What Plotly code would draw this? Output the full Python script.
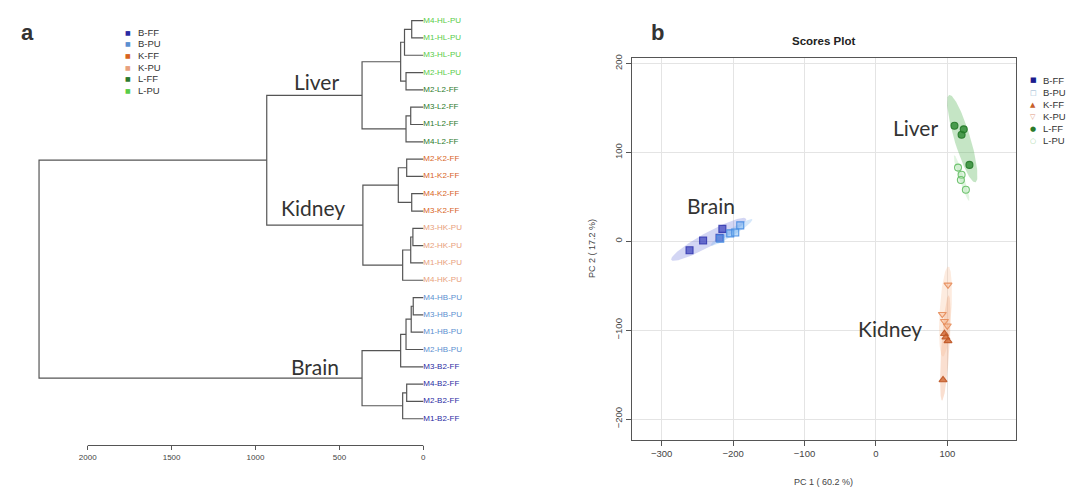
import numpy as np
import plotly.graph_objects as go

# ---------------- data ----------------
groups = ["B-FF", "B-PU", "K-FF", "K-PU", "L-FF", "L-PU"]
group_tags = ["B2-FF", "HB-PU", "K2-FF", "HK-PU", "L2-FF", "HL-PU"]
label_colors = ["#2a2aa3", "#5b8fd0", "#d8641e", "#e8a07c", "#2c7a2c", "#58cc48"]

# hierarchical clustering merges ("#k" refers to merge k), heights in tree units
merge_left = ["M4-HL-PU", "#0", "M2-HL-PU", "#1", "M3-L2-FF", "#4", "#3",
              "M2-K2-FF", "M4-K2-FF", "#7", "M3-HK-PU", "#10", "#11", "#9", "#6",
              "M4-HB-PU", "#15", "#16", "#17", "M4-B2-FF", "#19", "#18", "#14"]
merge_right = ["M1-HL-PU", "M3-HL-PU", "M2-L2-FF", "#2", "M1-L2-FF", "M4-L2-FF", "#5",
               "M1-K2-FF", "M3-K2-FF", "#8", "M2-HK-PU", "M1-HK-PU", "M4-HK-PU", "#12", "#13",
               "M3-HB-PU", "M1-HB-PU", "M2-HB-PU", "M3-B2-FF", "M2-B2-FF", "M1-B2-FF", "#20", "#21"]
merge_height = [69, 112, 103, 135, 75, 103, 365,
                99, 69, 149, 62, 75, 123, 360, 933,
                60, 72, 103, 135, 99, 123, 365, 2290]
dendro_ticks = [2000, 1500, 1000, 500, 0]

# PCA scores (PC1, PC2)
pc1 = {
    "B-FF": [-261, -242, -219, -215],
    "B-PU": [-218, -204, -197, -190],
    "K-FF": [96, 101, 98, 94],
    "K-PU": [101, 93, 96, 100],
    "L-FF": [110, 120, 123, 131],
    "L-PU": [115, 120, 119, 126],
}
pc2 = {
    "B-FF": [-10, 1, 4, 14],
    "B-PU": [3, 9, 10, 18],
    "K-FF": [-104, -112, -108, -156],
    "K-PU": [-49, -82, -90, -95],
    "L-FF": [130, 120, 126, 86],
    "L-PU": [83, 75, 69, 58],
}
pca_ticks_x = [-300, -200, -100, 0, 100]
pca_ticks_y = [-200, -100, 0, 100, 200]

marker_symbols = ["square", "square", "triangle-up", "triangle-down", "circle", "circle"]
marker_fill = ["rgba(45,50,185,0.65)", "rgba(110,175,240,0.45)", "rgba(205,95,40,0.75)",
               "rgba(245,170,120,0.35)", "rgba(40,135,45,0.8)", "rgba(170,225,170,0.3)"]
marker_line = ["rgba(40,45,170,0.8)", "rgba(70,140,225,0.9)", "rgba(190,85,35,0.9)",
               "rgba(230,140,90,0.9)", "rgba(35,120,40,0.9)", "rgba(100,190,100,0.9)"]
ellipse_fill = ["rgba(110,120,220,0.30)", "rgba(120,180,240,0.30)", "rgba(240,150,100,0.30)",
                "rgba(250,190,150,0.30)", "rgba(90,180,90,0.35)", "rgba(170,225,170,0.35)"]
legend_b_colors = ["#1c1c8e", "#8fb3cf", "#c8602a", "#e0967a", "#2a7a2a", "#9fd69f"]
legend_b_glyphs = ["■", "□", "▲", "▽", "●", "○"]

FONT = "Arial, Liberation Sans, sans-serif"
W, H = 1080, 496
OX, OY = 8, 8  # page offset of the plot div (body margin)


def px_x(p):
    return (p - OX) / W


def px_y(p):
    return 1 - (p - OY) / H


fig = go.Figure()

# ---------------- panel a: dendrogram ----------------
leaf_order = []
seg_x, seg_y = [], []


def place(node):
    if not node.startswith("#"):
        leaf_order.append(node)
        return 0.0, float(len(leaf_order) - 1)
    k = int(node[1:])
    lh, ly = place(merge_left[k])
    rh, ry = place(merge_right[k])
    h = merge_height[k]
    seg_x.extend([lh, h, h, rh, None])
    seg_y.extend([ly, ly, ry, ry, None])
    return h, (ly + ry) / 2


place("#%d" % (len(merge_height) - 1))

fig.add_trace(go.Scatter(x=seg_x, y=seg_y, mode="lines", xaxis="x", yaxis="y",
                         line=dict(color="#555555", width=1.2), hoverinfo="skip",
                         showlegend=False))


def leaf_color(lbl):
    for tag, c in zip(group_tags, label_colors):
        if tag in lbl:
            return c
    return "#000"


fig.add_trace(go.Scatter(x=[0] * len(leaf_order), y=list(range(len(leaf_order))),
                         mode="text", text=leaf_order, textposition="middle right",
                         cliponaxis=False,
                         textfont=dict(family=FONT, size=8,
                                       color=[leaf_color(l) for l in leaf_order]),
                         xaxis="x", yaxis="y", showlegend=False, hoverinfo="skip"))

# pixel mapping for panel a
px_per_unit = 335.6 / 2000
x0_px = 423.3
dom_a = [30, 430]
leaf0_px, leaf_step = 16.7, 17.45
ya_bottom_px = 445

fig.update_layout(
    xaxis=dict(domain=[px_x(dom_a[0]), px_x(dom_a[1])],
               range=[(x0_px - dom_a[0]) / px_per_unit, (x0_px - dom_a[1]) / px_per_unit],
               tickvals=dendro_ticks, ticktext=[str(t) for t in dendro_ticks],
               ticks="outside", ticklen=4, tickcolor="#555", tickwidth=1,
               showgrid=False, zeroline=False, showline=False,
               tickfont=dict(family=FONT, size=8, color="#444"), anchor="y"),
    yaxis=dict(domain=[px_y(ya_bottom_px), px_y(OY)],
               range=[(ya_bottom_px - leaf0_px) / leaf_step, (OY - leaf0_px) / leaf_step],
               visible=False, anchor="x"),
)
fig.add_shape(type="line", xref="x", yref="y domain", x0=dendro_ticks[0], x1=dendro_ticks[-1],
              y0=0, y1=0, line=dict(color="#555", width=1.2))

for name, hx, iy in [("Liver", 639, 3.51), ("Kidney", 658, 10.79), ("Brain", 646, 19.96)]:
    fig.add_annotation(x=hx, y=iy, xref="x", yref="y", text=name, showarrow=False,
                       xanchor="center", yanchor="middle",
                       font=dict(family="Lato, Open Sans, sans-serif", size=21, color="#333"))

# legend a (text glyphs)
for k, (g, c) in enumerate(zip(groups, label_colors)):
    ypx = 28.3 + 11.8 * k
    fig.add_annotation(x=px_x(128), y=px_y(ypx), xref="paper", yref="paper", text="■",
                       showarrow=False, font=dict(family="DejaVu Sans", size=6, color=c),
                       xanchor="center", yanchor="middle")
    fig.add_annotation(x=px_x(136), y=px_y(ypx), xref="paper", yref="paper", text=g,
                       showarrow=False, font=dict(family=FONT, size=9.5, color="#333"),
                       xanchor="left", yanchor="middle")

# ---------------- panel b: PCA scores ----------------
t95 = np.sqrt(-2 * np.log(0.05))  # sqrt(qchisq(0.95, 2))
theta = np.linspace(0, 2 * np.pi, 120)
for g, fc in zip(groups, ellipse_fill):
    pts = np.column_stack([pc1[g], pc2[g]]).astype(float)
    ctr = pts.mean(axis=0)
    cov = np.cov(pts.T)
    vals, vecs = np.linalg.eigh(cov)
    circ = np.vstack([np.cos(theta), np.sin(theta)])
    ell = (vecs @ np.diag(np.sqrt(np.maximum(vals, 0))) @ circ) * t95
    fig.add_trace(go.Scatter(x=ell[0] + ctr[0], y=ell[1] + ctr[1], mode="lines",
                             fill="toself", fillcolor=fc, line=dict(width=0),
                             xaxis="x2", yaxis="y2", showlegend=False, hoverinfo="skip"))

for g, sym, mf, ml in zip(groups, marker_symbols, marker_fill, marker_line):
    fig.add_trace(go.Scatter(x=pc1[g], y=pc2[g], mode="markers", name=g,
                             marker=dict(symbol=sym, size=7, color=mf,
                                         line=dict(color=ml, width=1.1)),
                             xaxis="x2", yaxis="y2", showlegend=False))

axis_common = dict(showline=True, mirror=True, linecolor="#555", linewidth=1,
                   ticks="outside", ticklen=5, tickcolor="#555",
                   showgrid=True, gridcolor="#e4e4e4", gridwidth=1, zeroline=False,
                   tickfont=dict(family=FONT, size=9.5, color="#444"))
fig.update_layout(
    xaxis2=dict(domain=[px_x(631.7), px_x(1016)], range=[-342, 196.2], tickvals=pca_ticks_x,
                anchor="y2", **axis_common),
    yaxis2=dict(domain=[px_y(439.3), px_y(54.3)], range=[-223.4, 206.4],
                tickvals=pca_ticks_y, tickangle=-90, anchor="x2", **axis_common),
)

fig.add_annotation(x=px_x(823), y=px_y(37), xref="paper", yref="paper", text="<b>Scores Plot</b>",
                   showarrow=False, xanchor="center", yanchor="middle",
                   font=dict(family=FONT, size=11.5, color="#222"))
fig.add_annotation(x=px_x(823), y=px_y(482), xref="paper", yref="paper", text="PC 1 ( 60.2 %)",
                   showarrow=False, xanchor="center", yanchor="middle",
                   font=dict(family=FONT, size=9, color="#444"))
fig.add_annotation(x=px_x(592), y=px_y(247), xref="paper", yref="paper", text="PC 2 ( 17.2 %)",
                   showarrow=False, textangle=-90, xanchor="center", yanchor="middle",
                   font=dict(family=FONT, size=9, color="#444"))

for name, x, y in [("Liver", 56, 128), ("Kidney", 19.6, -98), ("Brain", -231, 40)]:
    fig.add_annotation(x=x, y=y, xref="x2", yref="y2", text=name, showarrow=False,
                       xanchor="center", yanchor="middle",
                       font=dict(family="Lato, Open Sans, sans-serif", size=21, color="#333"))

for k, (g, c, gl) in enumerate(zip(groups, legend_b_colors, legend_b_glyphs)):
    ypx = 77 + 12.2 * k
    fig.add_annotation(x=px_x(1033), y=px_y(ypx), xref="paper", yref="paper", text=gl,
                       showarrow=False, font=dict(family="DejaVu Sans", size=7, color=c),
                       xanchor="center", yanchor="middle")
    fig.add_annotation(x=px_x(1041), y=px_y(ypx), xref="paper", yref="paper", text=g,
                       showarrow=False, font=dict(family=FONT, size=9.5, color="#333"),
                       xanchor="left", yanchor="middle")

# panel letters
fig.add_annotation(x=px_x(27), y=px_y(29), xref="paper", yref="paper", text="<b>a</b>",
                   showarrow=False, xanchor="center", yanchor="middle",
                   font=dict(family=FONT, size=22, color="#333"))
fig.add_annotation(x=px_x(657), y=px_y(29), xref="paper", yref="paper", text="<b>b</b>",
                   showarrow=False, xanchor="center", yanchor="middle",
                   font=dict(family=FONT, size=22, color="#333"))

fig.update_layout(width=W, height=H, margin=dict(l=0, r=0, t=0, b=0),
                  paper_bgcolor="white", plot_bgcolor="white", showlegend=False)

fig.write_html("out.html")
